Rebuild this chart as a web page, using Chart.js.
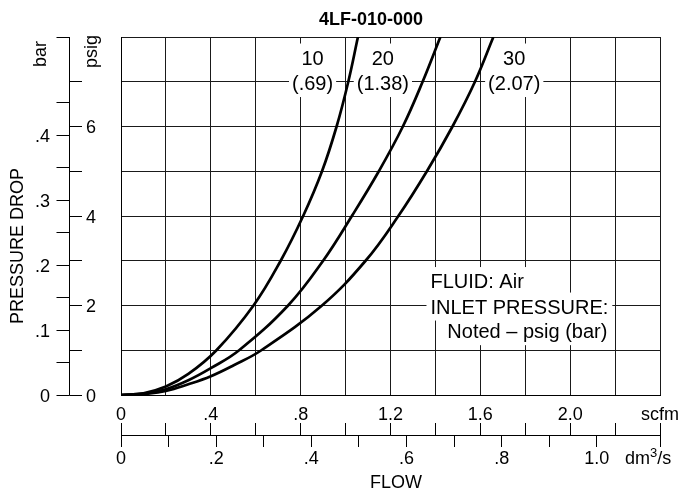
<!DOCTYPE html>
<html>
<head>
<meta charset="utf-8">
<script src="https://cdn.jsdelivr.net/npm/chart.js@4/dist/chart.umd.min.js"></script>
<style>
  html, body { margin: 0; padding: 0; background: #fff; }
  canvas { display: block; }
</style>
</head>
<body>
<canvas id="c" width="686" height="491"></canvas>
<script>
// ---- Data (flow in scfm, pressure drop in psig) ----
const flow10 = [0, 0.1, 0.2, 0.3, 0.425, 0.59, 0.711, 0.811, 0.895, 0.96, 1.012, 1.055];
const drop10 = [0, 0.04, 0.19, 0.47, 1, 2, 3, 4, 5, 6, 7, 8];

const flow20 = [0, 0.1, 0.2, 0.3, 0.4, 0.526, 0.744, 0.9, 1.028, 1.148, 1.255, 1.343, 1.422];
const drop20 = [0, 0.03, 0.13, 0.33, 0.6, 1, 2, 3, 4, 5, 6, 7, 8];

const flow30 = [0, 0.1, 0.2, 0.3, 0.4, 0.5, 0.625, 0.895, 1.089, 1.235, 1.362, 1.476, 1.576, 1.658];
const drop30 = [0, 0.02, 0.09, 0.24, 0.42, 0.66, 1, 2, 3, 4, 5, 6, 7, 8];

// Curve labels: inlet pressure psig (bar)
const curveNames = ['10', '20', '30'];
const curveBarNames = ['(.69)', '(1.38)', '(2.07)'];

// Axis ticks
const scfmTickValues = [0, 0.2, 0.4, 0.6, 0.8, 1.0, 1.2, 1.4, 1.6, 1.8, 2.0, 2.2, 2.4];
const scfmLabelValues = [0, 0.4, 0.8, 1.2, 1.6, 2.0];
const scfmLabels = ['0', '.4', '.8', '1.2', '1.6', '2.0'];
const dm3TickValues = [0, 0.1, 0.2, 0.3, 0.4, 0.5, 0.6, 0.7, 0.8, 0.9, 1.0];
const dm3LabelValues = [0, 0.2, 0.4, 0.6, 0.8, 1.0];
const dm3Labels = ['0', '.2', '.4', '.6', '.8', '1.0'];
const psigTickValues = [0, 1, 2, 3, 4, 5, 6, 7];
const psigLabelValues = [0, 2, 4, 6];
const psigLabels = ['0', '2', '4', '6'];
const barTickValues = [0, 0.05, 0.1, 0.15, 0.2, 0.25, 0.3, 0.35, 0.4, 0.45];
const barLabelValues = [0, 0.1, 0.2, 0.3, 0.4];
const barLabels = ['0', '.1', '.2', '.3', '.4'];

const titleText = '4LF-010-000';
const noteLines = ['FLUID: Air', 'INLET PRESSURE:', 'Noted \u2013 psig (bar)'];

const PSIG_PER_BAR = 14.5038;
const SCFM_PER_DM3 = 2.11888;

const FONT = '"Liberation Sans", Arial, Helvetica, sans-serif';

function crisp(v) { return Math.round(v - 0.5) + 0.5; }
function seg(ctx, x1, y1, x2, y2) {
  ctx.beginPath(); ctx.moveTo(x1, y1); ctx.lineTo(x2, y2); ctx.stroke();
}
function boxedText(ctx, text, x, baseline, align, padX) {
  const w = ctx.measureText(text).width;
  let left = align === 'center' ? x - w / 2 : (align === 'right' ? x - w : x);
  ctx.fillStyle = '#fff';
  ctx.fillRect(left - padX, baseline - 21, w + 2 * padX, 28);
  ctx.fillStyle = '#000';
  ctx.textAlign = 'left';
  ctx.fillText(text, left, baseline);
}

const labelPlugin = {
  id: 'labelPlugin',
  beforeDatasetsDraw(chart, args, opts) {
    const {ctx, scales: {x, y}} = chart;
    ctx.save();
    ctx.font = '20px ' + FONT;
    ctx.textBaseline = 'alphabetic';
    opts.curveAnchors.forEach((a, i) => {
      const cx = x.getPixelForValue(a);
      boxedText(ctx, curveNames[i], cx, y.getPixelForValue(opts.nameRow), 'center', 3);
      boxedText(ctx, curveBarNames[i], cx, y.getPixelForValue(opts.barRow), 'center', 3);
    });
    opts.noteRows.forEach((r, i) => {
      boxedText(ctx, noteLines[i], x.getPixelForValue(r.x), y.getPixelForValue(r.y), 'left', 4);
    });
    ctx.restore();
  }
};

const outerAxes = {
  id: 'outerAxes',
  afterDraw(chart) {
    const {ctx, chartArea: ca, scales: {x, y}} = chart;
    ctx.save();
    ctx.strokeStyle = '#000';
    ctx.fillStyle = '#000';
    ctx.lineWidth = 1;
    ctx.textBaseline = 'alphabetic';

    // left pressure axes (psig ticks to the right, bar ticks to the left)
    const ax = crisp(69);
    seg(ctx, ax, ca.top, ax, ca.bottom + 0.5);
    psigTickValues.forEach(v => {
      const yy = crisp(y.getPixelForValue(v));
      seg(ctx, ax, yy, ax + 12.5, yy);
    });
    barTickValues.forEach(v => {
      const yy = crisp(y.getPixelForValue(v * PSIG_PER_BAR));
      seg(ctx, ax - 13, yy, ax, yy);
    });
    seg(ctx, ax - 13, crisp(ca.top), ax, crisp(ca.top));

    ctx.font = '18px ' + FONT;
    ctx.textAlign = 'left';
    psigLabelValues.forEach((v, i) => {
      ctx.fillText(psigLabels[i], 86, y.getPixelForValue(v) + 6.5);
    });
    ctx.textAlign = 'right';
    barLabelValues.forEach((v, i) => {
      ctx.fillText(barLabels[i], 50, y.getPixelForValue(v * PSIG_PER_BAR) + 6.5);
    });

    function rot(text, px, py, align) {
      ctx.save();
      ctx.translate(px, py);
      ctx.rotate(-Math.PI / 2);
      ctx.textAlign = align;
      ctx.fillText(text, 0, 0);
      ctx.restore();
    }
    rot('bar', 45.5, 67, 'left');
    rot('psig', 97, 68, 'left');
    rot('PRESSURE DROP', 23, 246, 'center');

    // bottom flow axes
    const ay = crisp(435);
    seg(ctx, ca.left, ay, ca.right + 0.5, ay);
    scfmTickValues.forEach(v => {
      const xx = crisp(x.getPixelForValue(v));
      seg(ctx, xx, 423, xx, ay);
    });
    dm3TickValues.forEach(v => {
      const xx = crisp(x.getPixelForValue(v * SCFM_PER_DM3));
      seg(ctx, xx, ay, xx, 447);
    });
    const xEnd = crisp(x.getPixelForValue(2.4));
    seg(ctx, xEnd, 423, xEnd, 447);

    ctx.textAlign = 'center';
    scfmLabelValues.forEach((v, i) => {
      ctx.fillText(scfmLabels[i], x.getPixelForValue(v), 419.5);
    });
    ctx.fillText('scfm', x.getPixelForValue(2.4), 419.5);
    dm3LabelValues.forEach((v, i) => {
      ctx.fillText(dm3Labels[i], x.getPixelForValue(v * SCFM_PER_DM3), 464);
    });
    ctx.textAlign = 'left';
    let ux = x.getPixelForValue(2.4) - 35;
    ctx.fillText('dm', ux, 464);
    ux += ctx.measureText('dm').width;
    ctx.font = '13px ' + FONT;
    ctx.fillText('3', ux, 457);
    ux += ctx.measureText('3').width;
    ctx.font = '18px ' + FONT;
    ctx.fillText('/s', ux, 464);

    ctx.textAlign = 'center';
    ctx.fillText('FLOW', 396, 488);

    ctx.font = 'bold 18px ' + FONT;
    ctx.fillText(titleText, 371, 25);
    ctx.restore();
  }
};

const gridStyle = { color: '#1a1a1a', lineWidth: 1, drawTicks: false };

new Chart(document.getElementById('c'), {
  type: 'line',
  data: {
    datasets: [
      { label: '10 psig', data: flow10.map((f, i) => ({ x: f, y: drop10[i] })) },
      { label: '20 psig', data: flow20.map((f, i) => ({ x: f, y: drop20[i] })) },
      { label: '30 psig', data: flow30.map((f, i) => ({ x: f, y: drop30[i] })) }
    ]
  },
  options: {
    responsive: false,
    animation: false,
    devicePixelRatio: 1,
    layout: { padding: { left: 121, top: 37, right: 26, bottom: 96 } },
    elements: {
      point: { radius: 0 },
      line: { borderWidth: 2.7, borderColor: '#000', tension: 0.4, fill: false }
    },
    plugins: {
      legend: { display: false },
      tooltip: { enabled: false },
      labelPlugin: {
        curveAnchors: [0.853, 1.166, 1.751],
        nameRow: 7.385,
        barRow: 6.815,
        noteRows: [ { x: 1.378, y: 2.39 }, { x: 1.378, y: 1.82 }, { x: 1.453, y: 1.27 } ]
      }
    },
    scales: {
      x: {
        type: 'linear', min: 0, max: 2.4,
        ticks: { display: false, stepSize: 0.2 },
        grid: gridStyle,
        border: { display: true, color: '#000', width: 1 },
        afterFit(s) { s.height = 0; }
      },
      y: {
        type: 'linear', min: 0, max: 8,
        ticks: { display: false, stepSize: 1 },
        grid: gridStyle,
        border: { display: true, color: '#000', width: 1 },
        afterFit(s) { s.width = 0; }
      }
    }
  },
  plugins: [labelPlugin, outerAxes]
});
</script>
</body>
</html>
